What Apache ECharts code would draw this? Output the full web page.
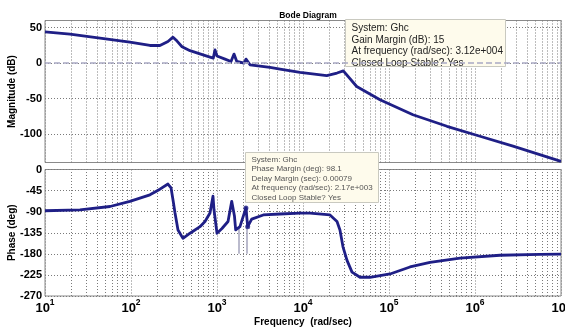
<!DOCTYPE html>
<html>
<head>
<meta charset="utf-8">
<script src="https://cdn.jsdelivr.net/npm/echarts@6/dist/echarts.min.js"></script>
<style>
html, body { margin: 0; padding: 0; background: #fff; }
#bode { width: 565px; height: 329px; }
</style>
</head>
<body>
<div id="bode"></div>
<script>
// magnitude curve (rad/sec, dB)
var magFreq = [10, 19.5, 43.6, 97, 166, 217, 269, 308, 343, 392, 486, 634, 829, 905, 948, 1000, 1055, 1239, 1455, 1577, 1694, 1900, 2062, 2174, 2421, 4132, 5404, 9230, 18880, 24850, 29440, 42100, 78520, 190000, 472000, 1142000, 2767000, 10000000];
var magDb = [44, 40.8, 35.2, 29.6, 24.8, 24.8, 30.4, 36.5, 31, 23, 17.5, 13, 8.5, 7, 18.7, 10, 8.5, 5.6, 2.3, 12.7, 2.5, 1, 0, 5.6, -2.4, -6, -8.5, -13, -17.5, -14, -11, -33, -51.7, -72.8, -89, -103, -117, -138.5];

// phase curve (rad/sec, deg)
var phaseFreq = [10, 25.5, 57, 97, 166, 217, 269, 292, 308, 325, 352, 402, 486, 634, 725, 829, 898, 923, 1000, 1143, 1343, 1483, 1549, 1597, 1649, 1849, 2170, 2274, 2531, 3452, 5404, 9230, 12050, 20600, 24850, 26900, 29170, 32500, 37150, 46000, 60100, 102800, 175400, 299700, 670000, 1954000, 5700000, 10000000];
var phaseDeg = [-88, -86, -79, -68, -54, -42, -31, -39, -65, -93, -129, -147, -136, -122, -111, -93, -57, -86, -136, -126, -111, -68, -65, -100, -129, -122, -82, -122, -106, -97, -95, -93, -93, -97, -111, -129, -165, -194, -219, -230, -230, -223, -208, -198, -189, -183, -181, -180.5];

// phase margin markers
var pmFreq = [1800, 2200];
var pmPhase = [-125, -82];
var tipFreq = [2170, 2274];
var tipPhase = [-82, -122];

var magTicks = [-100, -50, 0, 50];

var tipGain = ["System: Ghc", "Gain Margin (dB): 15", "At frequency (rad/sec): 3.12e+004", "Closed Loop Stable? Yes"];
var tipPhaseText = ["System: Ghc", "Phase Margin (deg): 98.1", "Delay Margin (sec): 0.00079", "At frequency (rad/sec): 2.17e+003", "Closed Loop Stable? Yes"];

var font = "Liberation Sans, Arial, sans-serif";
var navy = "#1f1f86";
var gridDot = { color: "#7a7a7a", type: [1, 2], width: 1 };

function pairs(xs, ys) {
  return xs.map(function (x, i) { return [x, ys[i]]; });
}

// minor log grid lines 2..9 in each decade
var minorLines = [];
for (var d = 1; d < 7; d++) {
  for (var m = 2; m <= 9; m++) {
    minorLines.push({ xAxis: m * Math.pow(10, d) });
  }
}

function xAxisCfg(idx, showLabel) {
  return {
    type: "log",
    gridIndex: idx,
    min: 10,
    max: 10000000,
    logBase: 10,
    splitNumber: 6,
    axisLine: { show: false },
    axisTick: { show: false },
    axisLabel: {
      show: showLabel,
      margin: 2,
      hideOverlap: false,
      formatter: function (v) {
        return "{b|10}{s|" + Math.round(Math.log10(v)) + "}";
      },
      rich: {
        b: { fontSize: 13, fontWeight: "bold", color: "#000", fontFamily: font, lineHeight: 20 },
        s: { fontSize: 8.5, fontWeight: "bold", color: "#000", fontFamily: font, lineHeight: 8, verticalAlign: "top" }
      }
    },
    splitLine: { show: true, lineStyle: gridDot }
  };
}

function box(x, y, w, h) {
  return { type: "rect", z: 10, shape: { x: x, y: y, width: w, height: h }, style: { fill: "#fefbec", stroke: "#c9c9c0", lineWidth: 1 } };
}

var chart = echarts.init(document.getElementById("bode"));

var option = {
  animation: false,
  backgroundColor: "#fff",
  title: {
    text: "Bode Diagram",
    left: 303,
    top: 6,
    textAlign: "center",
    textStyle: { fontSize: 8.5, fontWeight: "bold", color: "#000", fontFamily: font }
  },
  grid: [
    { left: 45, right: 4, top: 20.5, height: 142, containLabel: false, outerBoundsMode: "none", show: true, borderColor: "#8a8a8a", borderWidth: 1, backgroundColor: "#fff" },
    { left: 45, right: 4, top: 169.5, height: 126.5, containLabel: false, outerBoundsMode: "none", show: true, borderColor: "#8a8a8a", borderWidth: 1, backgroundColor: "#fff" }
  ],
  xAxis: [
    xAxisCfg(0, false),
    Object.assign(xAxisCfg(1, true), {
      name: "Frequency  (rad/sec)",
      nameLocation: "middle",
      nameGap: 21,
      nameMoveOverlap: false,
      nameTextStyle: { fontSize: 10, fontWeight: "bold", color: "#000", fontFamily: font, verticalAlign: "top" }
    })
  ],
  yAxis: [
    {
      type: "value",
      gridIndex: 0,
      min: -140,
      max: 60,
      name: "Magnitude (dB)",
      nameLocation: "middle",
      nameGap: 28,
      nameMoveOverlap: false,
      nameTextStyle: { fontSize: 10, fontWeight: "bold", color: "#000", fontFamily: font },
      axisLine: { show: false },
      axisTick: { show: false, customValues: magTicks },
      axisLabel: { customValues: magTicks, margin: 3, fontSize: 11, fontWeight: "bold", color: "#000", fontFamily: font },
      splitLine: { show: true, lineStyle: gridDot }
    },
    {
      type: "value",
      gridIndex: 1,
      min: -270,
      max: 0,
      interval: 45,
      name: "Phase (deg)",
      nameLocation: "middle",
      nameGap: 28,
      nameMoveOverlap: false,
      nameTextStyle: { fontSize: 10, fontWeight: "bold", color: "#000", fontFamily: font },
      axisLine: { show: false },
      axisTick: { show: false },
      axisLabel: { margin: 3, fontSize: 11, fontWeight: "bold", color: "#000", fontFamily: font },
      splitLine: { show: true, lineStyle: gridDot }
    }
  ],
  series: [
    {
      name: "minorMag",
      type: "line",
      xAxisIndex: 0,
      yAxisIndex: 0,
      data: [],
      z: 1,
      markLine: { silent: true, z: 1, symbol: "none", label: { show: false }, lineStyle: gridDot, data: minorLines }
    },
    {
      name: "minorPhase",
      type: "line",
      xAxisIndex: 1,
      yAxisIndex: 1,
      data: [],
      z: 1,
      markLine: { silent: true, z: 1, symbol: "none", label: { show: false }, lineStyle: gridDot, data: minorLines }
    },
    {
      name: "pmLines",
      type: "line",
      xAxisIndex: 1,
      yAxisIndex: 1,
      data: [],
      z: 2,
      markLine: {
        silent: true,
        z: 2,
        symbol: "none",
        label: { show: false },
        lineStyle: { color: "#a4a4bc", type: "solid", width: 1.5 },
        data: pmFreq.map(function (f, i) {
          return [{ coord: [f, pmPhase[i]] }, { coord: [f, -180] }];
        })
      }
    },
    {
      name: "Magnitude",
      type: "line",
      xAxisIndex: 0,
      yAxisIndex: 0,
      data: pairs(magFreq, magDb),
      showSymbol: false,
      z: 3,
      lineStyle: { color: navy, width: 2.8, join: "round" }
    },
    {
      name: "Phase",
      type: "line",
      xAxisIndex: 1,
      yAxisIndex: 1,
      data: pairs(phaseFreq, phaseDeg),
      showSymbol: false,
      z: 3,
      lineStyle: { color: navy, width: 2.8, join: "round" }
    },
    {
      name: "tips",
      type: "scatter",
      xAxisIndex: 1,
      yAxisIndex: 1,
      data: pairs(tipFreq, tipPhase),
      symbolSize: 5,
      itemStyle: { color: navy },
      z: 4
    },
    {
      name: "zeroDb",
      type: "line",
      xAxisIndex: 0,
      yAxisIndex: 0,
      data: [],
      z: 30,
      markLine: {
        silent: true,
        z: 30,
        symbol: "none",
        label: { show: false },
        lineStyle: { color: "#a9a9c4", type: [6, 3], width: 1.5 },
        data: [{ yAxis: 0 }]
      }
    }
  ],
  graphic: [
    box(345.5, 19.5, 160, 47),
    { type: "text", z: 11, x: 351.5, y: 22.5, style: { text: tipGain.join("\n"), font: "10px " + font, fill: "#222", lineHeight: 11.5, verticalAlign: "top" } },
    box(245.5, 152.5, 133, 50),
    { type: "text", z: 11, x: 251.5, y: 154.5, style: { text: tipPhaseText.join("\n"), font: "8px " + font, fill: "#555", lineHeight: 9.6, verticalAlign: "top" } }
  ]
};

chart.setOption(option);
</script>
</body>
</html>
